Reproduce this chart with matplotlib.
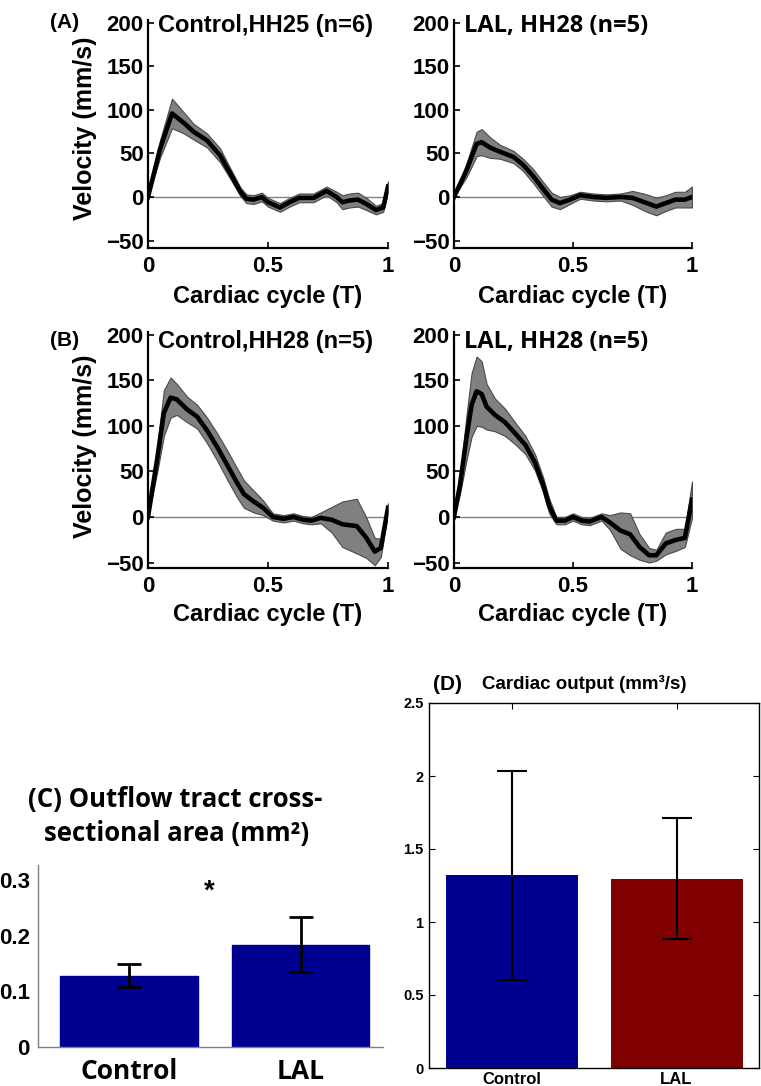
import matplotlib
matplotlib.use("Agg")
import matplotlib.pyplot as plt
import numpy as np

W, H = 761, 1086

# ---------------- data ----------------
# Panel A left: Control, HH25
a1_t = [0.0, 0.05, 0.10, 0.15, 0.19, 0.246, 0.30, 0.343, 0.385, 0.41, 0.44, 0.474, 0.50, 0.55, 0.59,
        0.63, 0.69, 0.744, 0.786, 0.81, 0.84, 0.875, 0.91, 0.95, 0.98, 1.0]
a1_m = [0, 55, 96, 85, 75, 65, 48, 27, 6, -2, -3, 0, -6, -12, -6, -1, -1, 7, 0, -6, -4, -3, -8, -15, -12, 12]
a1_s = [0, 10, 17, 12, 9, 8, 8, 6, 5, 5, 5, 5, 5, 5, 5, 5, 5, 5, 6, 8, 8, 8, 7, 5, 5, 6]

# Panel A right: LAL, HH28
a2_t = [0.0, 0.053, 0.095, 0.116, 0.15, 0.193, 0.25, 0.29, 0.333, 0.375, 0.41, 0.445, 0.487, 0.53,
        0.585, 0.64, 0.70, 0.75, 0.81, 0.85, 0.89, 0.93, 0.97, 1.0]
a2_m = [0, 31, 61, 63, 57, 52, 46, 37, 24, 9, -3, -7, -3, 2, 0, -1, 0, -1, -7, -11, -7, -3, -3, 0]
a2_s = [0, 8, 14, 15, 12, 8, 7, 7, 8, 8, 8, 7, 5, 4, 4, 4, 4, 8, 10, 10, 9, 9, 9, 12]

# Panel B left: Control, HH28
b1_t = [0.0, 0.039, 0.066, 0.094, 0.12, 0.163, 0.205, 0.246, 0.29, 0.33, 0.37, 0.40, 0.44, 0.48, 0.52,
        0.565, 0.606, 0.647, 0.68, 0.72, 0.765, 0.81, 0.87, 0.91, 0.945, 0.97, 1.0]
b1_m = [0, 65, 114, 131, 129, 118, 110, 95, 76, 57, 38, 25, 17, 10, 0, -2, 0, -3, -4, -1, -3, -8, -10,
        -23, -38, -34, 10]
b1_s = [0, 15, 25, 22, 17, 14, 13, 14, 15, 16, 16, 15, 12, 8, 4, 4, 4, 4, 4, 6, 14, 25, 30, 22, 15, 10, 5]

# Panel B right: LAL, HH28
b2_t = [0.0, 0.025, 0.053, 0.074, 0.095, 0.116, 0.137, 0.172, 0.214, 0.256, 0.30, 0.34, 0.375, 0.40,
        0.43, 0.466, 0.50, 0.536, 0.57, 0.62, 0.655, 0.70, 0.74, 0.78, 0.82, 0.85, 0.89, 0.934, 0.97, 1.0]
b2_m = [0, 35, 88, 123, 138, 135, 121, 112, 104, 92, 79, 60, 35, 12, -4, -4, 0, -4, -5, 0, -6, -15,
        -19, -33, -42, -42, -29, -25, -23, 19]
b2_s = [0, 10, 25, 35, 38, 36, 25, 18, 15, 12, 10, 9, 8, 8, 4, 4, 4, 4, 4, 4, 8, 20, 23, 14, 8, 6, 12,
        12, 10, 20]

curve_titles = ["Control,HH25 (n=6)", "LAL, HH28 (n=5)", "Control,HH28 (n=5)", "LAL, HH28 (n=5)"]
x_ticks = [0, 0.5, 1]
x_ticklabels = ["0", "0.5", "1"]
y_ticks = [-50, 0, 50, 100, 150, 200]

# Panel C: outflow tract cross-sectional area
c_groups = ["Control", "LAL"]
c_means = [0.128, 0.184]
c_err = [0.021, 0.050]

# Panel D: cardiac output
d_groups = ["Control", "LAL"]
d_means = [1.32, 1.297]
d_err = [0.714, 0.415]

# ---------------- figure ----------------
fig = plt.figure(figsize=(W / 100, H / 100), dpi=100)
plt.rcParams['font.family'] = ['Liberation Sans', 'DejaVu Sans']


def ax_px(l, t, r, b):
    return fig.add_axes([l / W, 1 - b / H, (r - l) / W, (b - t) / H])


def curve_panel(box, ylim, t, m, s, title, title_font, title_y, xlabel_y):
    ax = ax_px(*box)
    t = np.array(t); m = np.array(m, float); s = np.array(s, float)
    ax.axhline(0, color='#808080', lw=1.0, zorder=1)
    ax.fill_between(t, m - s, m + s, facecolor='#808080', edgecolor='#4a4a4a', lw=0.8, zorder=2)
    ax.plot(t, m, color='black', lw=3.3, zorder=3, solid_joinstyle='round')
    ax.set_xlim(0, 1)
    ax.set_ylim(*ylim)
    ax.set_xticks(x_ticks)
    ax.set_xticklabels(x_ticklabels)
    ax.set_yticks(y_ticks)
    for sp in ['top', 'right']:
        ax.spines[sp].set_visible(False)
    for sp in ['left', 'bottom']:
        ax.spines[sp].set_linewidth(1.6)
    ax.tick_params(direction='in', length=4, width=1.2, labelsize=16)
    ax.tick_params(axis='x', pad=6)
    ax.tick_params(axis='y', pad=3)
    for lab in ax.get_xticklabels() + ax.get_yticklabels():
        lab.set_fontweight('bold')
    l, tp, r, b = box
    fig.text((l + r) / 2 / W, 1 - xlabel_y / H, "Cardiac cycle (T)", fontsize=17, fontweight='bold',
             ha='center', va='center')
    ax.text(0.04, title_y, title, transform=ax.transAxes, fontsize=17, fontweight='bold',
            va='center', ha='left', family=title_font)
    return ax


ylimA = (-58.6, 203.4)
ylimB = (-56, 203)
axA1 = curve_panel((148, 20, 388, 248), ylimA, a1_t, a1_m, a1_s, curve_titles[0], ['Liberation Sans'],
                   0.974, 296)
axA2 = curve_panel((454, 20, 692, 248), ylimA, a2_t, a2_m, a2_s, curve_titles[1], ['Open Sans'],
                   0.974, 296)
axB1 = curve_panel((148, 332, 388, 568), ylimB, b1_t, b1_m, b1_s, curve_titles[2], ['Liberation Sans'],
                   0.958, 615)
axB2 = curve_panel((454, 332, 692, 568), ylimB, b2_t, b2_m, b2_s, curve_titles[3], ['Open Sans'],
                   0.958, 615)

fig.text(85 / W, 1 - 128 / H, "Velocity (mm/s)", fontsize=18, fontweight='bold', rotation=90,
         ha='center', va='center')
fig.text(85 / W, 1 - 446 / H, "Velocity (mm/s)", fontsize=18, fontweight='bold', rotation=90,
         ha='center', va='center')

fig.text(65 / W, 1 - 22 / H, "(A)", fontsize=15, fontweight='bold', ha='center', va='center')
fig.text(65 / W, 1 - 340 / H, "(B)", fontsize=15, fontweight='bold', ha='center', va='center')

# ---------------- Panel C ----------------
axC = ax_px(38, 865, 383, 1047)
xc = np.arange(1, len(c_groups) + 1)
axC.bar(xc, c_means, width=0.8, color='#000090', edgecolor='#000090', zorder=2)
axC.errorbar(xc, c_means, yerr=c_err, fmt='none', ecolor='black', elinewidth=2, capsize=8.5,
             capthick=2, zorder=3)
axC.set_xlim(0.47, 2.48)
axC.set_ylim(0, 0.327)
axC.set_yticks([0, 0.1, 0.2, 0.3])
axC.set_yticklabels(["0", "0.1", "0.2", "0.3"])
axC.set_xticks(xc)
axC.set_xticklabels(c_groups)
for sp in ['top', 'right']:
    axC.spines[sp].set_visible(False)
for sp in ['left', 'bottom']:
    axC.spines[sp].set_color('#808080')
    axC.spines[sp].set_linewidth(1.0)
axC.tick_params(axis='y', length=0, labelsize=16, pad=6)
axC.tick_params(axis='x', length=0, labelsize=19, pad=8)
for lab in axC.get_yticklabels():
    lab.set_fontweight('bold')
for lab in axC.get_xticklabels():
    lab.set_fontweight('bold')
    lab.set_family(['Open Sans'])
axC.text(1.47, 0.28, "*", fontsize=20, fontweight='bold', ha='center', va='center')
fig.text(175 / W, 1 - 800 / H, "(C) Outflow tract cross-", fontsize=18.5, fontweight='bold',
         ha='center', va='center', family=['Open Sans'])
fig.text(177 / W, 1 - 833 / H, "sectional area (mm²)", fontsize=18.5, fontweight='bold',
         ha='center', va='center', family=['Open Sans'])

# ---------------- Panel D ----------------
axD = ax_px(429, 703, 759, 1068)
xd = np.arange(1, len(d_groups) + 1)
axD.bar(xd, d_means, width=0.8, color=['#000090', '#800000'], zorder=2)
axD.errorbar(xd, d_means, yerr=d_err, fmt='none', ecolor='black', elinewidth=1.5, capsize=11,
             capthick=1.5, zorder=3)
axD.set_xlim(0.5, 2.5)
axD.set_ylim(0, 2.5)
axD.set_yticks([0, 0.5, 1, 1.5, 2, 2.5])
axD.set_yticklabels(["0", "0.5", "1", "1.5", "2", "2.5"])
axD.set_xticks(xd)
axD.set_xticklabels(d_groups)
for sp in axD.spines.values():
    sp.set_linewidth(1.0)
axD.tick_params(direction='in', length=4, top=True, right=True, pad=4)
axD.tick_params(axis='y', labelsize=10.5)
axD.tick_params(axis='x', labelsize=12, pad=3)
for lab in axD.get_xticklabels() + axD.get_yticklabels():
    lab.set_fontweight('bold')
fig.text(433 / W, 1 - 684 / H, "(D)", fontsize=15, fontweight='bold', ha='left', va='center')
fig.text(482 / W, 1 - 684 / H, "Cardiac output (mm³/s)", fontsize=13.5, fontweight='bold',
         ha='left', va='center')

fig.savefig("out.png", dpi=100)
